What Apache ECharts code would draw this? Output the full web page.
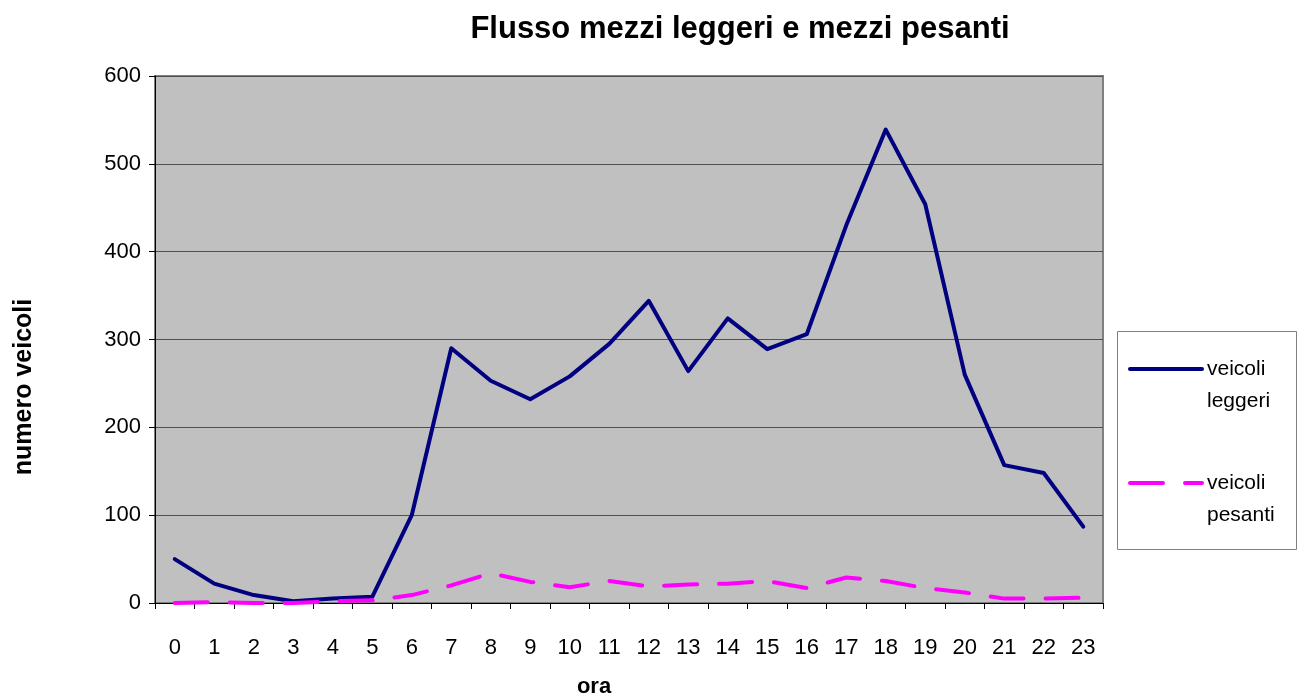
<!DOCTYPE html>
<html>
<head>
<meta charset="utf-8">
<script src="https://cdn.jsdelivr.net/npm/echarts@6/dist/echarts.min.js"></script>
<style>
  html, body { margin: 0; padding: 0; background: #fff; }
  #chart { width: 1299px; height: 696px; }
</style>
</head>
<body>
<div id="chart"></div>
<script>
// ore del giorno
const hours = ['0','1','2','3','4','5','6','7','8','9','10','11','12','13','14','15','16','17','18','19','20','21','22','23'];
// veicoli leggeri
const leggeri = [50, 22, 9, 2, 5, 7, 100, 290, 253, 232, 258, 295, 344, 264, 324, 289, 306, 430, 539, 454, 260, 157, 148, 87];
// veicoli pesanti
const pesanti = [0, 1, 0, 0, 2, 3, 9, 20, 34, 24, 18, 25, 19, 21, 22, 25, 17, 29, 25, 17, 12, 5, 5, 6];
const yTicks = [0, 100, 200, 300, 400, 500, 600];

const font = 'Arial, "Liberation Sans", sans-serif';
var myChart = echarts.init(document.getElementById('chart'));

const option = {
  animation: false,
  backgroundColor: '#fff',
  title: {
    text: 'Flusso mezzi leggeri e mezzi pesanti',
    left: 735,
    top: 9,
    textAlign: 'center',
    textStyle: { fontFamily: font, fontSize: 31, fontWeight: 'bold', color: '#000' }
  },
  grid: {
    left: 155,
    right: 196,
    top: 76,
    bottom: 93,
    outerBoundsMode: 'none',
    show: true,
    backgroundColor: '#C0C0C0',
    borderColor: '#808080',
    borderWidth: 2
  },
  legend: {
    orient: 'vertical',
    left: 1128,
    top: 321,
    padding: 0,
    itemWidth: 72,
    itemHeight: 14,
    itemGap: 18,
    itemStyle: { opacity: 0 },
    lineStyle: { width: 4, cap: 'round' },
    data: ['veicoli\nleggeri', 'veicoli\npesanti'],
    formatter: name => '\n' + name,
    textStyle: { fontFamily: font, fontSize: 21, color: '#000', lineHeight: 32 }
  },
  xAxis: {
    type: 'category',
    data: hours,
    boundaryGap: true,
    name: 'ora',
    nameLocation: 'middle',
    nameGap: 73,
    nameTextStyle: { fontFamily: font, fontSize: 22, fontWeight: 'bold', color: '#000', padding: [0, 70, 0, 0] },
    axisLine: { lineStyle: { color: '#000', width: 1 } },
    axisTick: { show: true, alignWithLabel: false, length: 6, lineStyle: { color: '#000' } },
    axisLabel: { fontFamily: font, fontSize: 22, color: '#000', margin: 34, interval: 0 },
    splitLine: { show: false }
  },
  yAxis: {
    type: 'value',
    min: yTicks[0],
    max: yTicks[yTicks.length - 1],
    interval: 100,
    axisLine: { show: true, lineStyle: { color: '#000', width: 1 } },
    axisTick: { show: true, length: 6, lineStyle: { color: '#000' } },
    axisLabel: { fontFamily: font, fontSize: 22, color: '#000', margin: 14 },
    splitLine: { show: true, lineStyle: { color: '#505050', width: 1 } }
  },
  graphic: [
    {
      type: 'rect',
      shape: { x: 1117.5, y: 331.5, width: 179, height: 218 },
      style: { fill: '#fff', stroke: '#808080', lineWidth: 1 },
      z: -1
    },
    {
      type: 'text',
      x: 24, y: 387,
      rotation: Math.PI / 2,
      style: {
        text: 'numero veicoli',
        fontFamily: font, fontSize: 25, fontWeight: 'bold', fill: '#000',
        align: 'center', verticalAlign: 'middle'
      }
    }
  ],
  series: [
    {
      name: 'veicoli\nleggeri',
      type: 'line',
      data: leggeri,
      symbol: 'none',
      lineStyle: { color: '#000080', width: 4, cap: 'round', join: 'round' },
      itemStyle: { color: '#000080' }
    },
    {
      name: 'veicoli\npesanti',
      type: 'line',
      data: pesanti,
      symbol: 'none',
      lineStyle: { color: '#FF00FF', width: 4, type: [33, 22], cap: 'round', join: 'round' },
      itemStyle: { color: '#FF00FF' }
    }
  ]
};

option && myChart.setOption(option);
</script>
</body>
</html>
